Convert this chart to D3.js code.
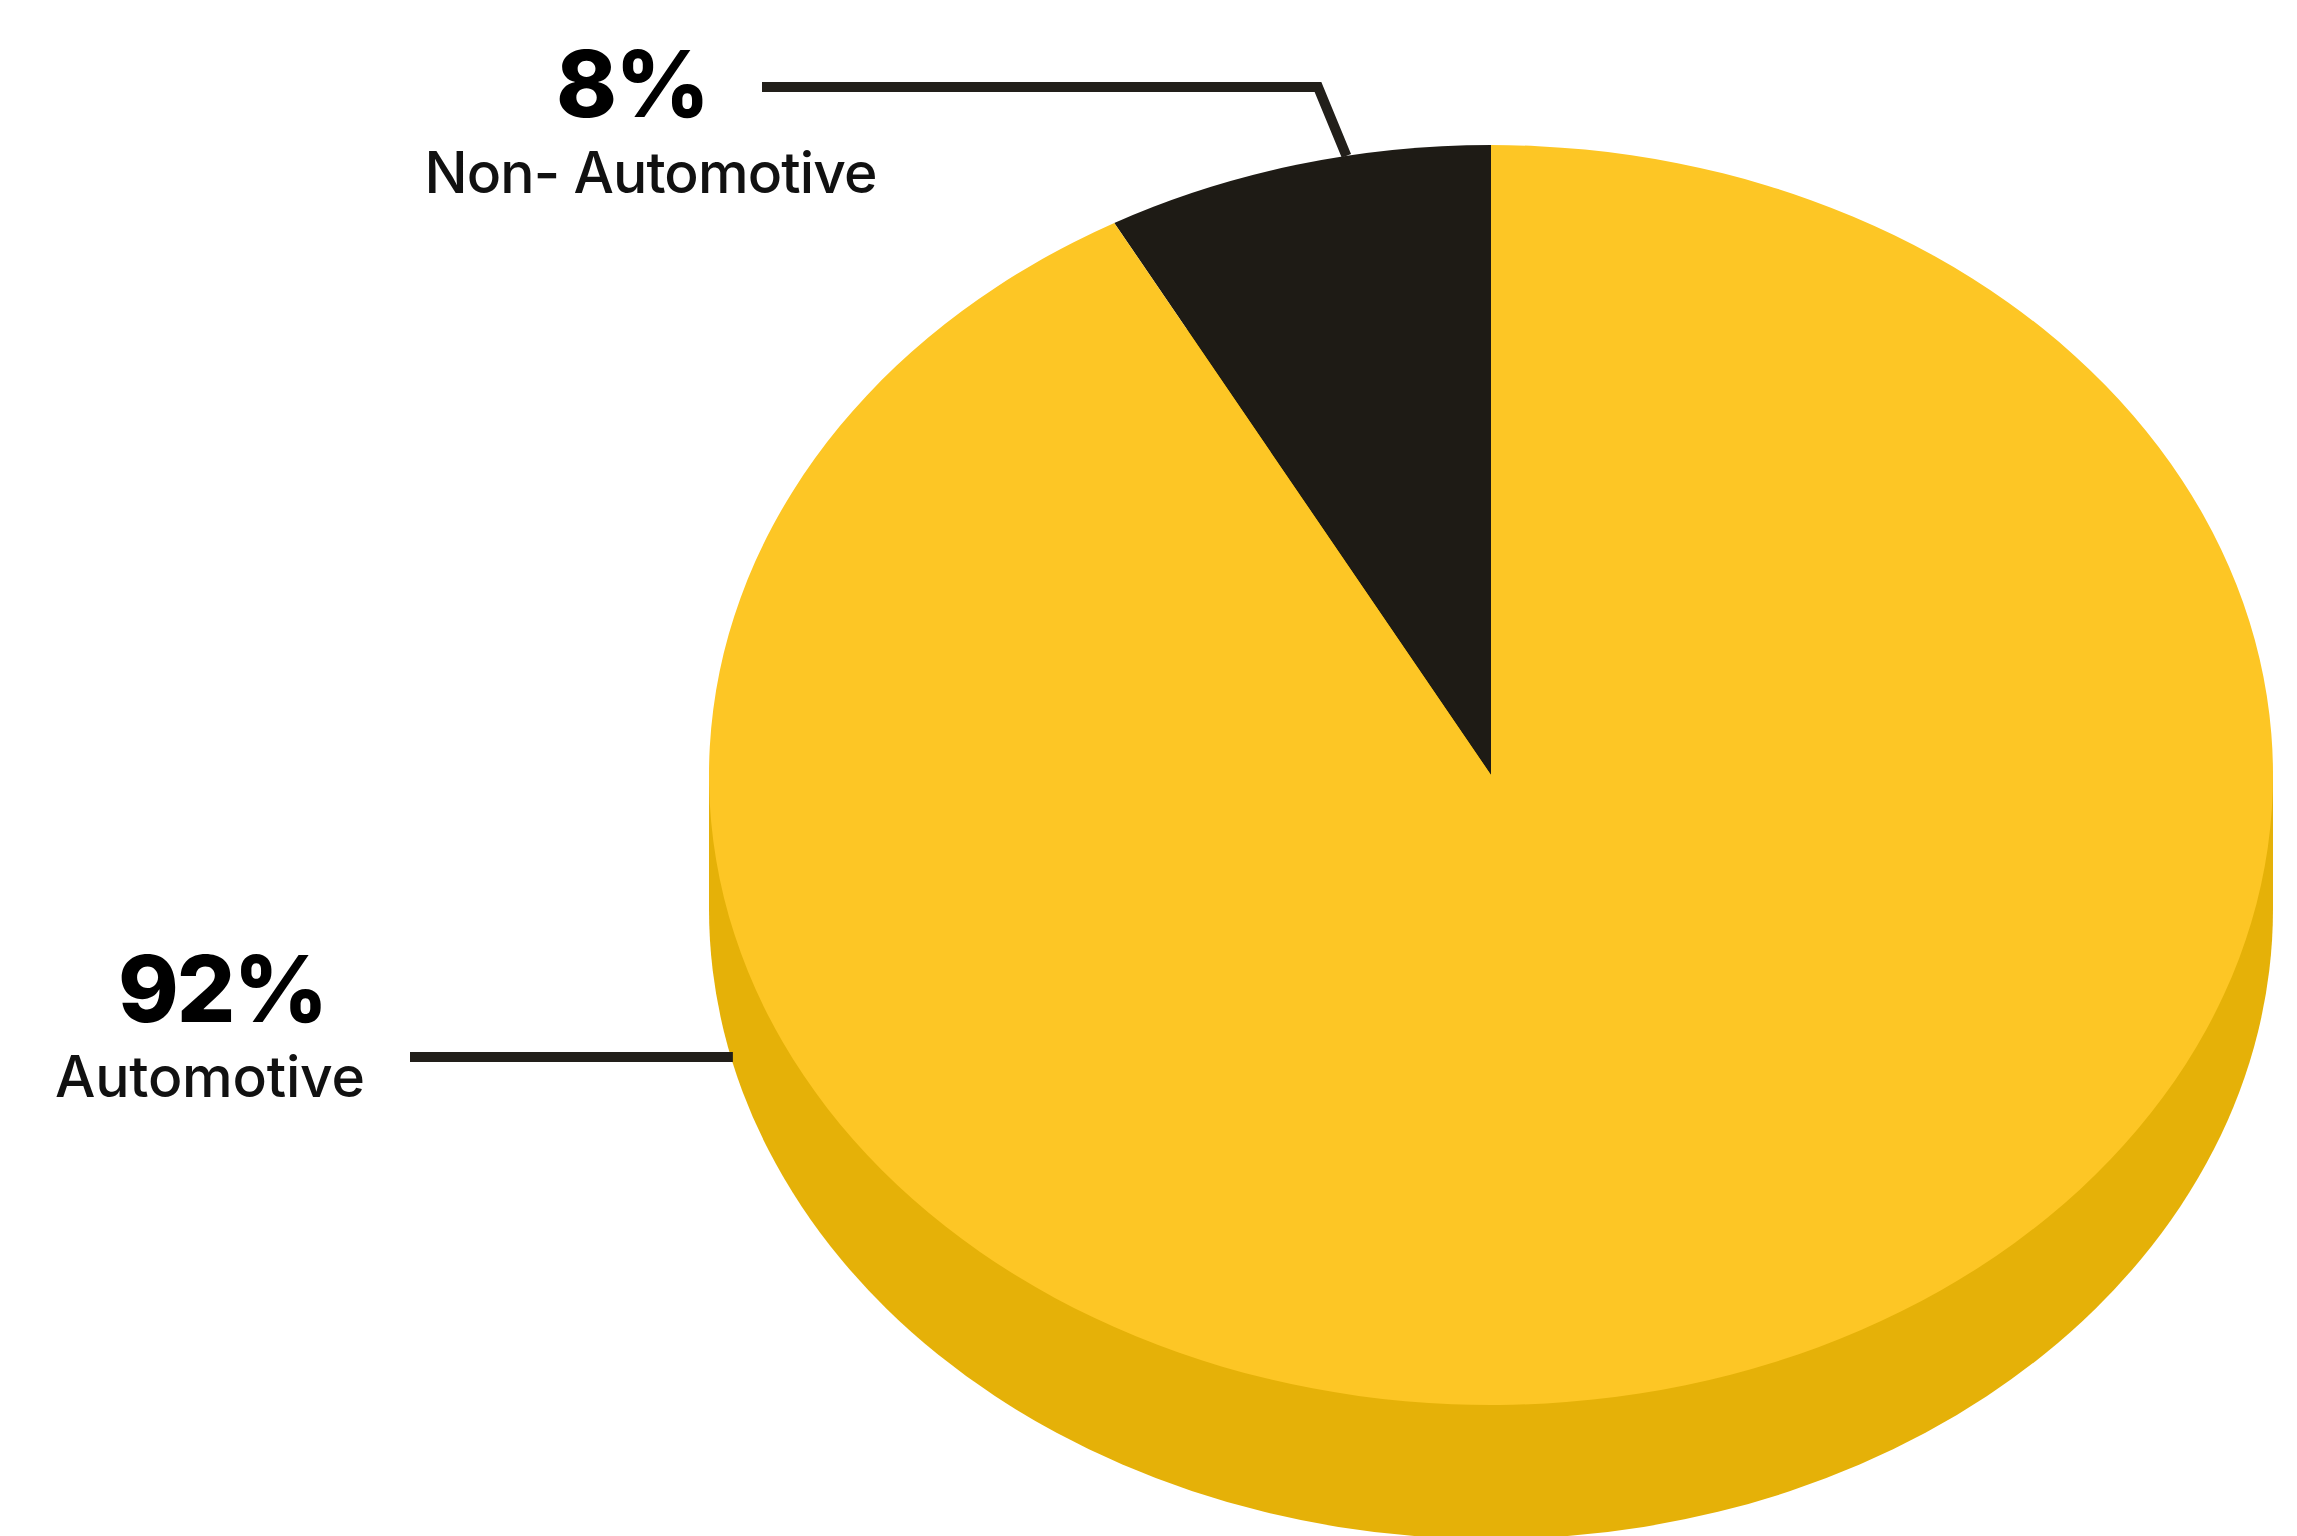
<!DOCTYPE html>
<html>
<head>
<meta charset="utf-8">
<script src="https://cdn.jsdelivr.net/npm/d3@7"></script>
<style>
  html, body { margin: 0; padding: 0; background: #ffffff; }
  svg { display: block; }
  text { font-family: Inter, "Noto Sans", sans-serif; }
</style>
</head>
<body>
<svg id="chart" width="2297" height="1536"></svg>
<script>
// Revenue split by segment
const categories = ["Non- Automotive", "Automotive"];
const shares = [8, 92];
const valueLabels = ["8%", "92%"];

const W = 2297, H = 1536;
const svg = d3.select("#chart");

// Tilted disc geometry
const cx = 1491, cy = 775;
const rx = 782, ry = 630;
const depth = 134;
const tilt = ry / rx;

const topColor = d3.scaleOrdinal().domain(categories).range(["#1e1b15", "#fdc625"]);
const sideColor = "#e5b108";
const inkColor = "#221f1a";

const startOffset = -2 * Math.PI * shares[0] / d3.sum(shares);
const pie = d3.pie().sort(null).value(d => d.value)
  .startAngle(startOffset).endAngle(startOffset + 2 * Math.PI);
const slices = pie(categories.map((c, i) => ({ name: c, value: shares[i], label: valueLabels[i] })));

const arc = d3.arc().innerRadius(0).outerRadius(rx);

// point on the top rim for a d3 angle (0 = 12 o'clock, clockwise)
const rim = (a, dy = 0) => [cx + rx * Math.sin(a), cy + dy - ry * Math.cos(a)];

// side wall of the disc (only the front half shows)
const side = svg.append("g");
side.append("ellipse")
  .attr("cx", cx).attr("cy", cy + depth)
  .attr("rx", rx).attr("ry", ry)
  .attr("fill", sideColor);
side.append("rect")
  .attr("x", cx - rx).attr("y", cy)
  .attr("width", 2 * rx).attr("height", depth)
  .attr("fill", sideColor);

// top face
svg.append("g")
  .attr("transform", `translate(${cx},${cy}) scale(1,${tilt})`)
  .selectAll("path")
  .data(slices)
  .join("path")
  .attr("d", arc)
  .attr("fill", d => topColor(d.data.name));

// leader lines
const small = slices[0];
const tipA = small.startAngle + 0.63 * (small.endAngle - small.startAngle);
const tip = rim(tipA);
const line = d3.line();
svg.append("path")
  .attr("d", line([[762, 87], [1318, 87], tip]))
  .attr("fill", "none")
  .attr("stroke", inkColor)
  .attr("stroke-width", 10)
  .attr("stroke-linejoin", "miter");

const yLead = 1057;
const dyb = (yLead - (cy + depth)) / ry;
const xEdge = cx - rx * Math.sqrt(1 - dyb * dyb);
svg.append("path")
  .attr("d", line([[410, yLead], [xEdge + 2, yLead]]))
  .attr("fill", "none")
  .attr("stroke", inkColor)
  .attr("stroke-width", 10);

// labels
const labelPos = [
  { x: 632, yVal: 117, yName: 193, nameWidth: 453 },
  { x: 222, yVal: 1022, yName: 1097, nameWidth: 310 }
];
const labels = svg.append("g").selectAll("g")
  .data(slices)
  .join("g");

labels.append("text")
  .attr("x", (d, i) => labelPos[i].x)
  .attr("y", (d, i) => labelPos[i].yVal)
  .attr("text-anchor", "middle")
  .attr("font-size", 92)
  .attr("font-weight", 800)
  .attr("letter-spacing", -2)
  .attr("fill", "#000")
  .text(d => d.data.label);

labels.append("text")
  .attr("x", (d, i) => labelPos[i].x + (i === 0 ? 19 : -12))
  .attr("y", (d, i) => labelPos[i].yName)
  .attr("text-anchor", "middle")
  .attr("font-size", 57)
  .attr("font-weight", 500)
  .attr("fill", "#111")
  .attr("textLength", (d, i) => labelPos[i].nameWidth)
  .attr("lengthAdjust", "spacing")
  .text(d => d.data.name);
</script>
</body>
</html>
